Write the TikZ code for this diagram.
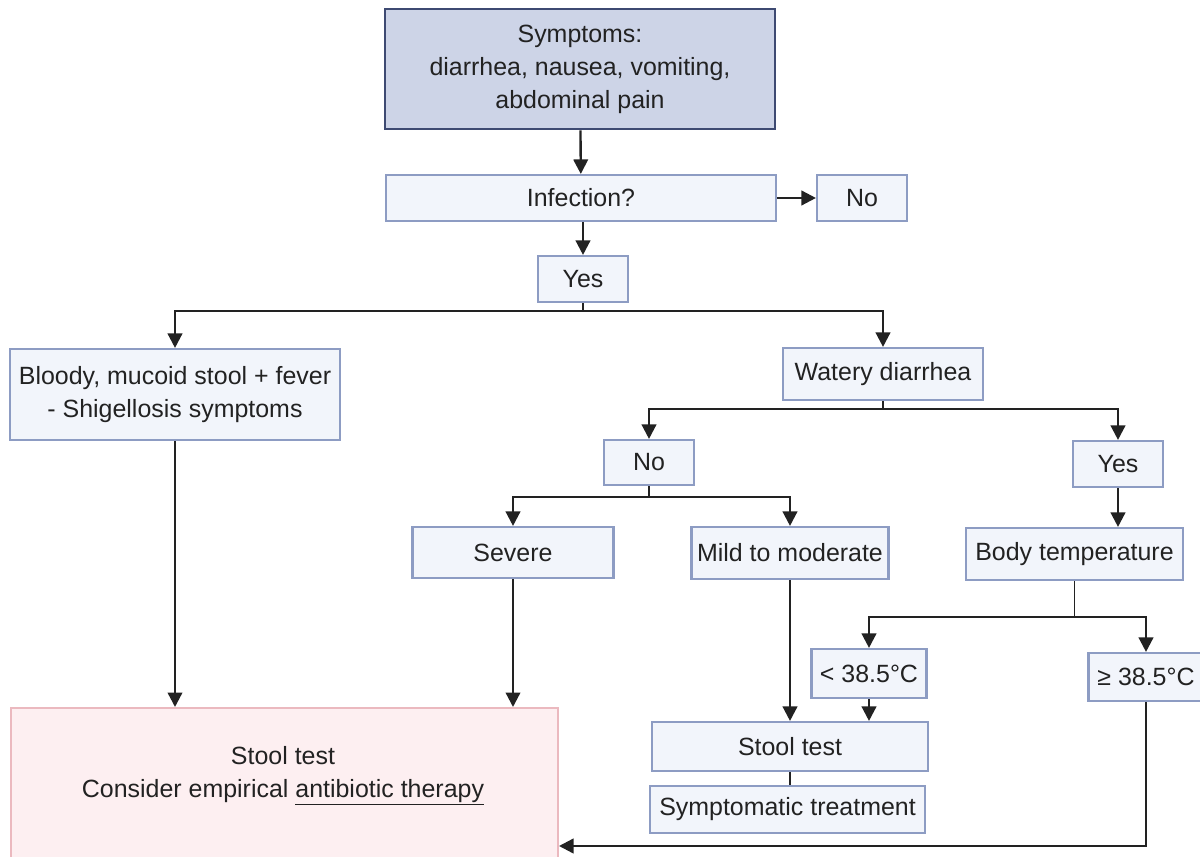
\documentclass[tikz,border=0pt]{standalone}
\usepackage{fontspec}
\setmainfont{Liberation Sans}
\usetikzlibrary{positioning, arrows.meta}

\definecolor{boxfill}{HTML}{F2F5FB}
\definecolor{boxline}{HTML}{8D9CC3}
\definecolor{topfill}{HTML}{CDD4E7}
\definecolor{topline}{HTML}{3E4A72}
\definecolor{resfill}{HTML}{FDEFF1}
\definecolor{resline}{HTML}{EBB9BF}
\definecolor{ink}{HTML}{222222}
\newcommand{\boxfont}{\fontsize{14.2pt}{18.8pt}\selectfont}

\begin{document}
\begin{tikzpicture}[x=0.02cm, y=-0.02cm,
    >={Triangle[length=0.29cm, width=0.29cm]},
    b/.style={draw=boxline, fill=boxfill, line width=1.2pt,
              inner sep=0pt, text=ink, font=\boxfont, align=center},
    topbox/.style={b, draw=topline, fill=topfill, line width=1.5pt},
    resbox/.style={draw=resline, fill=resfill, line width=1.2pt, inner sep=0pt},
    arr/.style={->, draw=ink, line width=1.35pt},
    ln/.style={draw=ink, line width=0.65pt}]
  \useasboundingbox (0,0) rectangle (1200,857);

  \node[topbox, minimum width=7.8cm, minimum height=2.4cm] (sym) at (580,69)
        {Symptoms:\\diarrhea, nausea, vomiting,\\abdominal pain};
  \node[b, minimum width=7.8cm, minimum height=0.92cm] (inf) at (581,198) {Infection?};
  \node[b, minimum width=1.8cm, minimum height=0.92cm] (no1) at (862,198) {No};
  \node[b, minimum width=1.8cm, minimum height=0.92cm] (yes1) at (583,279) {Yes};
  \node[b, minimum width=6.6cm, minimum height=1.82cm] (blood) at (175,394.5)
        {Bloody, mucoid stool + fever\\- Shigellosis symptoms};
  \node[b, minimum width=4cm, minimum height=1.04cm] (wat) at (883,374) {Watery diarrhea};
  \node[b, minimum width=1.8cm, minimum height=0.9cm] (no2) at (649,462.5) {No};
  \node[b, minimum width=1.8cm, minimum height=0.92cm] (yes2) at (1118,464) {Yes};
  \node[b, minimum width=4.02cm, minimum height=1.02cm] (sev) at (513,552.5) {Severe};
  \node[b, minimum width=3.94cm, minimum height=1.04cm] (mild) at (790,553) {Mild to moderate};
  \node[b, minimum width=4.34cm, minimum height=1.04cm] (body) at (1074.5,554) {Body temperature};
  \node[b, minimum width=2.3cm, minimum height=0.98cm] (lt) at (869,673.5) {< 38.5°C};
  \node[b, minimum width=2.3cm, minimum height=0.96cm] (ge) at (1146,677) {≥ 38.5°C};
  \node[b, minimum width=5.52cm, minimum height=0.98cm] (st) at (790,746.5) {Stool test};
  \node[b, minimum width=5.5cm, minimum height=0.94cm] (trt) at (787.5,809.5) {Symptomatic treatment};
  \node[resbox, minimum width=10.94cm, minimum height=3.4cm, anchor=north west] (res) at (10,707) {};
  \node[text=ink, font=\boxfont, align=center] (restxt) at (283,776)
        {Stool test\\Consider empirical \underline{antibiotic therapy}};

  % branch points
  \coordinate (s1) at (yes1.south |- 0,311);
  \coordinate (s2) at (wat.south |- 0,409);
  \coordinate (s3) at (no2.south |- 0,497);
  \coordinate (s4) at (body.south |- 0,617);
  \coordinate (back) at (res.east |- 0,846);

  \draw[arr] (sym) -- (inf);
  \draw[arr] (inf) -- (no1);
  \draw[arr] (inf.south -| yes1) -- (yes1);
  \draw[ln] (yes1) -- (s1);
  \draw[arr] (s1) -| (blood);
  \draw[arr] (s1) -| (wat);
  \draw[ln] (wat) -- (s2);
  \draw[arr] (s2) -| (no2);
  \draw[arr] (s2) -| (yes2);
  \draw[ln] (no2) -- (s3);
  \draw[arr] (s3) -| (sev);
  \draw[arr] (s3) -| (mild);
  \draw[arr] (yes2.south) -- (yes2.south |- body.north);
  \draw[ln] (body) -- (s4);
  \draw[arr] (s4) -| (lt);
  \draw[arr] (s4) -| (ge);
  \draw[arr] (mild.south) -- (mild.south |- st.north);
  \draw[arr] (lt.south) -- (lt.south |- st.north);
  \draw[ln] (st.south) -- (st.south |- trt.north);
  \draw[arr] (blood.south) -- (blood.south |- res.north);
  \draw[arr] (sev.south) -- (sev.south |- res.north);
  \draw[arr] (ge.south) |- (back);
\end{tikzpicture}
\end{document}
